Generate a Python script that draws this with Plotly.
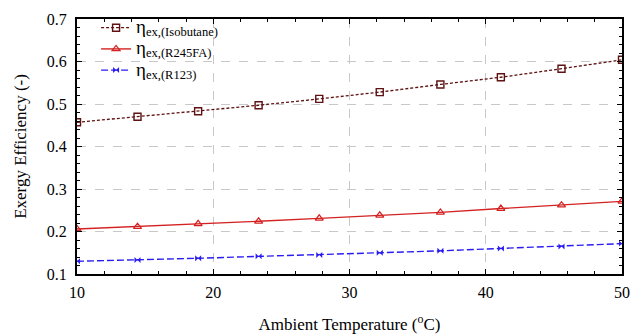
import plotly.graph_objects as go

temperature = [10, 14.44, 18.89, 23.33, 27.78, 32.22, 36.67, 41.11, 45.56, 50]
eta_isobutane = [0.457, 0.470, 0.483, 0.497, 0.512, 0.528, 0.546, 0.563, 0.583, 0.604]
eta_r245fa = [0.206, 0.2115, 0.218, 0.224, 0.231, 0.238, 0.245, 0.254, 0.262, 0.271]
eta_r123 = [0.130, 0.133, 0.137, 0.1415, 0.145, 0.150, 0.1545, 0.160, 0.165, 0.1715]

subs = ["ex,(Isobutane)", "ex,(R245FA)", "ex,(R123)"]
names = ["<span style='font-size:19px'>η</span><sub><span style='font-size:12.5px'>%s</span></sub>" % s for s in subs]

FONT = "Liberation Serif, Times New Roman, serif"

fig = go.Figure()
fig.add_trace(go.Scatter(
    x=temperature, y=eta_isobutane, name=names[0], mode="lines+markers",
    line=dict(color="#5e1212", width=1.3, dash="3px,2px"),
    marker=dict(symbol="square-open", size=7, color="#5e1212", line=dict(width=1.4)),
))
fig.add_trace(go.Scatter(
    x=temperature, y=eta_r245fa, name=names[1], mode="lines+markers",
    line=dict(color="#d42222", width=1.4),
    marker=dict(symbol="triangle-up-open", size=7, color="#d42222", line=dict(width=1.2)),
))
fig.add_trace(go.Scatter(
    x=temperature, y=eta_r123, name=names[2], mode="lines+markers",
    line=dict(color="#2a1cf0", width=1.4, dash="7px,3px"),
    marker=dict(symbol="bowtie", size=6, color="#2a1cf0"),
))

axis_common = dict(
    showline=True, linecolor="black", linewidth=2, mirror="allticks",
    ticks="inside", ticklen=5, tickwidth=1, tickcolor="black",
    showgrid=True, gridcolor="#c8c8c8", griddash="dash", gridwidth=1,
    zeroline=False, automargin=False,
    tickfont=dict(family=FONT, size=16, color="black"),
)

fig.update_xaxes(
    **axis_common, range=[10, 50], dtick=10, tick0=10,
    minor=dict(ticks="inside", ticklen=3, dtick=2, tickcolor="black", showgrid=False),
    title=dict(text="Ambient Temperature (<sup>o</sup>C)", font=dict(family=FONT, size=17, color="black"), standoff=24),
    ticklabelstandoff=3,
)
fig.update_yaxes(
    **axis_common, range=[0.1, 0.7], dtick=0.1, tick0=0.1, tickformat=".1f",
    minor=dict(ticks="inside", ticklen=3, dtick=0.02, tickcolor="black", showgrid=False),
    title=dict(text="Exergy Efficiency (-)", font=dict(family=FONT, size=17, color="black"), standoff=16),
    ticklabelstandoff=5,
)

fig.update_layout(
    width=638, height=334,
    margin=dict(l=77, r=16, t=15, b=60),
    paper_bgcolor="white", plot_bgcolor="white",
    font=dict(family=FONT, size=16, color="black"),
    showlegend=True,
    legend=dict(
        x=0.035, y=1.027, xanchor="left", yanchor="top",
        bgcolor="rgba(0,0,0,0)", borderwidth=0,
        font=dict(family=FONT, size=14, color="black"),
        itemwidth=30, tracegroupgap=0,
    ),
)

fig.write_html("out.html")
